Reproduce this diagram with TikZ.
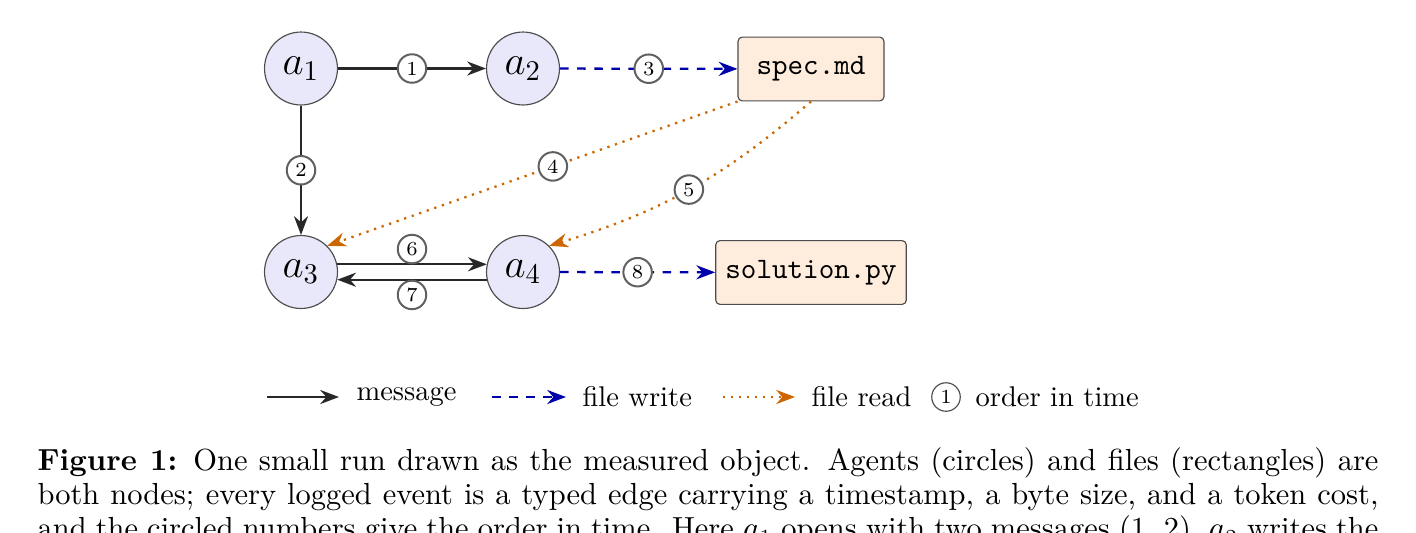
\documentclass[tikz,border=0pt]{standalone}
\usetikzlibrary{arrows.meta}
\definecolor{agentfill}{RGB}{232,232,250}
\definecolor{filefill}{RGB}{254,236,220}
\definecolor{writeblue}{RGB}{0,0,170}
\definecolor{readorange}{RGB}{204,102,0}
\definecolor{msgcol}{RGB}{40,40,40}
\definecolor{lblgray}{RGB}{96,96,96}
\tikzset{
  agent/.style={circle, draw=black!70, line width=0.4pt, fill=agentfill, minimum size=25.6pt, inner sep=0pt, font=\Large},
  filebox/.style={rectangle, rounded corners=1.5pt, draw=black!70, line width=0.4pt, fill=filefill, minimum width=51.2pt, minimum height=22.4pt, inner xsep=3.4pt, font=\fontsize{10.4}{12}\selectfont\ttfamily},
  lbl/.style={circle, draw=lblgray, line width=0.7pt, fill=white, minimum size=10pt, inner sep=1pt, font=\scriptsize},
  lblleg/.style={circle, draw=black!70, line width=0.4pt, fill=white, minimum size=10pt, inner sep=1pt, font=\scriptsize},
  msg/.style={draw=msgcol, line width=0.8pt, -{Stealth}},
  fwrite/.style={draw=writeblue, line width=0.8pt, dashed, -{Stealth}},
  fread/.style={draw=readorange, line width=0.8pt, dotted, -{Stealth}},
  legtext/.style={anchor=west, inner sep=0pt}
}
\begin{document}
\begin{tikzpicture}[x=0.350877pt, y=-0.350877pt]
\useasboundingbox (0,0) rectangle (1416,532);
% agents
\node[agent] (a1) at (301,68.5) {$a_1$};
\node[agent] (a2) at (523,68.5) {$a_2$};
\node[agent] (a3) at (301,272) {$a_3$};
\node[agent] (a4) at (523,272) {$a_4$};
% files
\node[filebox] (spec) at (811,69) {spec.md};
\node[filebox] (sol) at (811,272.5) {solution.py};
% edges
\draw[msg] (a1) -- node[lbl] {1} (a2);
\draw[msg] (a1) -- node[lbl] {2} (a3);
\draw[fwrite] (a2) -- node[lbl, solid] {3} (spec);
\draw[fread] (spec.south west) -- node[lbl, solid, pos=0.45] {4} (a3.north east);
\draw[fread] (spec.south) to[bend left=12] node[lbl, solid] {5} (a4.north east);
\draw[msg] (a3.12) -- node[lbl, above] {6} (a4.168);
\draw[msg] (a4.192) -- node[lbl, below] {7} (a3.348);
\draw[fwrite] (a4) -- node[lbl, solid] {8} (sol);
% legend
\coordinate (lm1) at (267,397); \coordinate (lm2) at (339,397);
\coordinate (lw1) at (492,397); \coordinate (lw2) at (566,397);
\coordinate (lr1) at (723,397); \coordinate (lr2) at (795,397);
\draw[msg] (lm1) -- (lm2);
\node[legtext] (tm) at (356,397) {message};
\draw[fwrite] (lw1) -- (lw2);
\node[legtext] (tw) at (582,397) {file write};
\draw[fread] (lr1) -- (lr2);
\node[legtext] (tr) at (811,397) {file read};
\node[lblleg] (lc) at (946,397) {1};
\node[legtext] (to) at (975,397) {order in time};
% caption
\node[anchor=north west, inner sep=0pt, text width=470.5pt, align=justify, font=\fontsize{10.7}{12}\selectfont] (cap) at (37,446) {\strut\textbf{Figure 1:} One small run drawn as the measured object. Agents (circles) and files (rectangles) are\linebreak both nodes; every logged event is a typed edge carrying a timestamp, a byte size, and a token cost,\linebreak and the circled numbers give the order in time. Here $a_1$ opens with two messages (1, 2), $a_2$ writes the\parfillskip=0pt\par};
\end{tikzpicture}
\end{document}
